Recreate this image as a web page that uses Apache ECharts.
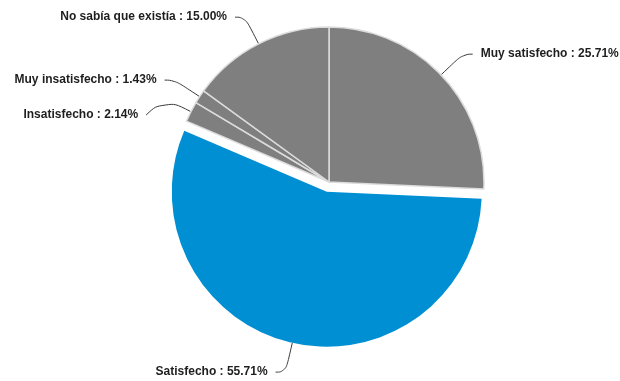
<!DOCTYPE html>
<html>
<head>
<meta charset="utf-8">
<script src="https://cdn.jsdelivr.net/npm/echarts@6/dist/echarts.min.js"></script>
<style>
  html, body { margin: 0; padding: 0; background: #ffffff; }
  #chart { width: 620px; height: 381px; }
</style>
</head>
<body>
<div id="chart"></div>
<script>
// Survey answers, in drawing order (clockwise from 12 o'clock)
const categories = ['Muy satisfecho', 'Satisfecho', 'Insatisfecho', 'Muy insatisfecho', 'No sabía que existía'];
const shares = [25.71, 55.71, 2.14, 1.43, 15.00];
const sliceColors = ['#7f7f7f', '#008fd3', '#7f7f7f', '#7f7f7f', '#7f7f7f'];
const pulledOut = 'Satisfecho';

const chart = echarts.init(document.getElementById('chart'), null, { renderer: 'canvas' });

const data = categories.map((name, i) => ({
  name: name,
  value: shares[i],
  selected: name === pulledOut,
  itemStyle: {
    color: sliceColors[i],
    borderColor: name === pulledOut ? 'rgba(0,0,0,0)' : '#dcdcdc',
    borderWidth: name === pulledOut ? 0 : 1.5
  },
  labelLine: i === 2 ? { length2: 18 } : undefined
}));

chart.setOption({
  animation: false,
  series: [{
    type: 'pie',
    center: [329, 182],
    radius: [0, 155],
    startAngle: 90,
    clockwise: true,
    selectedMode: 'single',
    selectedOffset: 10,
    avoidLabelOverlap: true,
    data: data,
    label: {
      show: true,
      position: 'outside',
      overflow: 'none',
      distanceToLabelLine: 8,
      formatter: p => p.name + ' : ' + p.value.toFixed(2) + '%',
      fontFamily: 'Liberation Sans, Arial, sans-serif',
      fontWeight: 'bold',
      fontSize: 12,
      color: '#1e1e1e'
    },
    labelLine: {
      show: true,
      length: 30,
      length2: 10,
      smooth: 0.5,
      lineStyle: { color: '#3a3a3a', width: 1 }
    },
    // nudge the smallest slice's label below its neighbour, keeping the line bent to it
    labelLayout: function (params) {
      if (params.dataIndex !== 2 || !params.labelLinePoints) return {};
      const pts = params.labelLinePoints.map(p => [p[0], p[1]]);
      const shift = 115 - (params.labelRect.y + params.labelRect.height / 2);
      pts[2][1] += shift;
      return { dy: shift, labelLinePoints: pts };
    },
    emphasis: { disabled: true },
    select: { disabled: false, itemStyle: { color: '#008fd3' } }
  }]
});
</script>
</body>
</html>
